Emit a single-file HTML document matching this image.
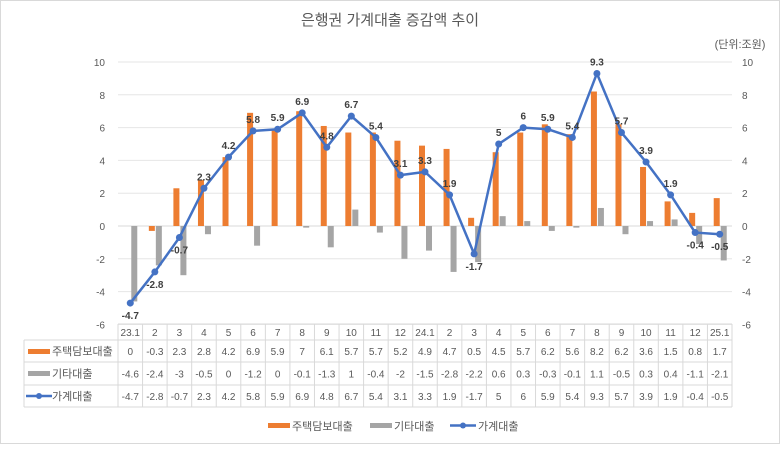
<!DOCTYPE html>
<html><head><meta charset="utf-8"><style>
body{margin:0;background:#fff;}
svg text{font-family:"Liberation Sans","Noto Sans CJK KR",sans-serif;}
</style></head><body>
<svg width="780" height="444" viewBox="0 0 780 444">
<rect x="0.5" y="0.5" width="779" height="443" fill="#fff" stroke="#d9d9d9"/>
<text x="390" y="25" text-anchor="middle" font-size="15" fill="#595959">은행권 가계대출 증감액 추이</text>
<text x="740" y="48" text-anchor="middle" font-size="11" fill="#595959">(단위:조원)</text>
<g id="grid"></g><g id="bars"></g><g id="line"></g><g id="table"></g>
<g>
<rect x="268" y="423" width="22" height="5" fill="#ed7d31"/>
<text x="292" y="430" font-size="11" fill="#595959">주택담보대출</text>
<rect x="370" y="423" width="22" height="5" fill="#a5a5a5"/>
<text x="394" y="430" font-size="11" fill="#595959">기타대출</text>
<line x1="450" y1="425.5" x2="476" y2="425.5" stroke="#4472c4" stroke-width="2.5"/>
<circle cx="463" cy="425.5" r="3" fill="#4472c4"/>
<text x="478" y="430" font-size="11" fill="#595959">가계대출</text>
</g>
</svg>
<script>
const categories=["23.1","2","3","4","5","6","7","8","9","10","11","12","24.1","2","3","4","5","6","7","8","9","10","11","12","25.1"];
const mortgage=[0,-0.3,2.3,2.8,4.2,6.9,5.9,7,6.1,5.7,5.7,5.2,4.9,4.7,0.5,4.5,5.7,6.2,5.6,8.2,6.2,3.6,1.5,0.8,1.7];
const other=[-4.6,-2.4,-3,-0.5,0,-1.2,0,-0.1,-1.3,1,-0.4,-2,-1.5,-2.8,-2.2,0.6,0.3,-0.3,-0.1,1.1,-0.5,0.3,0.4,-1.1,-2.1];
const household=[-4.7,-2.8,-0.7,2.3,4.2,5.8,5.9,6.9,4.8,6.7,5.4,3.1,3.3,1.9,-1.7,5,6,5.9,5.4,9.3,5.7,3.9,1.9,-0.4,-0.5];
const yTicks=[10,8,6,4,2,0,-2,-4,-6];
const NS="http://www.w3.org/2000/svg";
const L=118,R=732,cw=(R-L)/categories.length;
const x=i=>L+(i+0.5)*cw;
const y=v=>226-16.4*v;
function mk(p,t,a){const e=document.createElementNS(NS,t);for(const k in a)e.setAttribute(k,a[k]);p.appendChild(e);return e;}
const grid=document.getElementById('grid');
yTicks.forEach(v=>{
 const gl=mk(grid,'line',{x1:L,x2:R,y1:y(v),y2:y(v),stroke:v===0?'#d9d9d9':'#e6e6e6'});
 
 
 const t1=mk(grid,'text',{x:105,y:y(v)+4,'text-anchor':'end','font-size':10,fill:'#595959'});t1.textContent=v;
 
 
 const t2=mk(grid,'text',{x:742,y:y(v)+4,'font-size':10,fill:'#595959'});t2.textContent=v;
 
 
});
const bars=document.getElementById('bars');
categories.forEach((c,i)=>{
 const m=mortgage[i],o=other[i];
 const b1=mk(bars,'rect',{x:x(i)-6,width:6,y:Math.min(y(m),y(0)),height:Math.abs(y(m)-y(0)),fill:'#ed7d31'});
 
 
 const b2=mk(bars,'rect',{x:x(i)+1,width:6,y:Math.min(y(o),y(0)),height:Math.abs(y(o)-y(0)),fill:'#a5a5a5'});
 
 
});
const lg=document.getElementById('line');
const pl=mk(lg,'polyline',{points:household.map((v,i)=>x(i)+','+y(v)).join(' '),fill:'none',stroke:'#4472c4','stroke-width':2.5,'stroke-linejoin':'round'});


household.forEach((v,i)=>{
 const p=mk(lg,'circle',{cx:x(i),cy:y(v),r:3.5,fill:'#4472c4'});
 
 
 const t=mk(lg,'text',{x:x(i),y:v<0?y(v)+16:y(v)-8,'text-anchor':'middle','font-size':10,'font-weight':'bold',fill:'#404040'});
 t.textContent=v;
 
 
});
const tb=document.getElementById('table');
const rows=[[324,340],[340,362],[362,385],[385,407]];
mk(tb,'line',{x1:L,x2:R,y1:324,y2:324,stroke:'#d9d9d9'});
rows.slice(1).forEach(r=>{mk(tb,'line',{x1:24,x2:R,y1:r[1],y2:r[1],stroke:'#d9d9d9'});});
mk(tb,'line',{x1:24,x2:R,y1:340,y2:340,stroke:'#d9d9d9'});
mk(tb,'line',{x1:24,x2:24,y1:340,y2:407,stroke:'#d9d9d9'});
for(let i=0;i<=categories.length;i++){mk(tb,'line',{x1:L+i*cw,x2:L+i*cw,y1:324,y2:407,stroke:'#d9d9d9'});}
const series=[mortgage,other,household];
categories.forEach((c,i)=>{
 const h=mk(tb,'text',{x:x(i),y:336,'text-anchor':'middle','font-size':10,fill:'#595959'});h.textContent=c;
 
 
 series.forEach((s,k)=>{
  const t=mk(tb,'text',{x:x(i),y:(rows[k+1][0]+rows[k+1][1])/2+4,'text-anchor':'middle','font-size':10,fill:'#595959'});t.textContent=s[i];
  
  
 });
});
mk(tb,'rect',{x:28,y:349,width:22,height:5,fill:'#ed7d31'});
mk(tb,'rect',{x:28,y:371,width:22,height:5,fill:'#a5a5a5'});
mk(tb,'line',{x1:26,x2:52,y1:396,y2:396,stroke:'#4472c4','stroke-width':2.5});
mk(tb,'circle',{cx:39,cy:396,r:3,fill:'#4472c4'});
["주택담보대출","기타대출","가계대출"].forEach((n,k)=>{
 const t=mk(tb,'text',{x:52,y:(rows[k+1][0]+rows[k+1][1])/2+4,'font-size':11,fill:'#595959'});t.textContent=n;
 
 
});
</script>
</body></html>
